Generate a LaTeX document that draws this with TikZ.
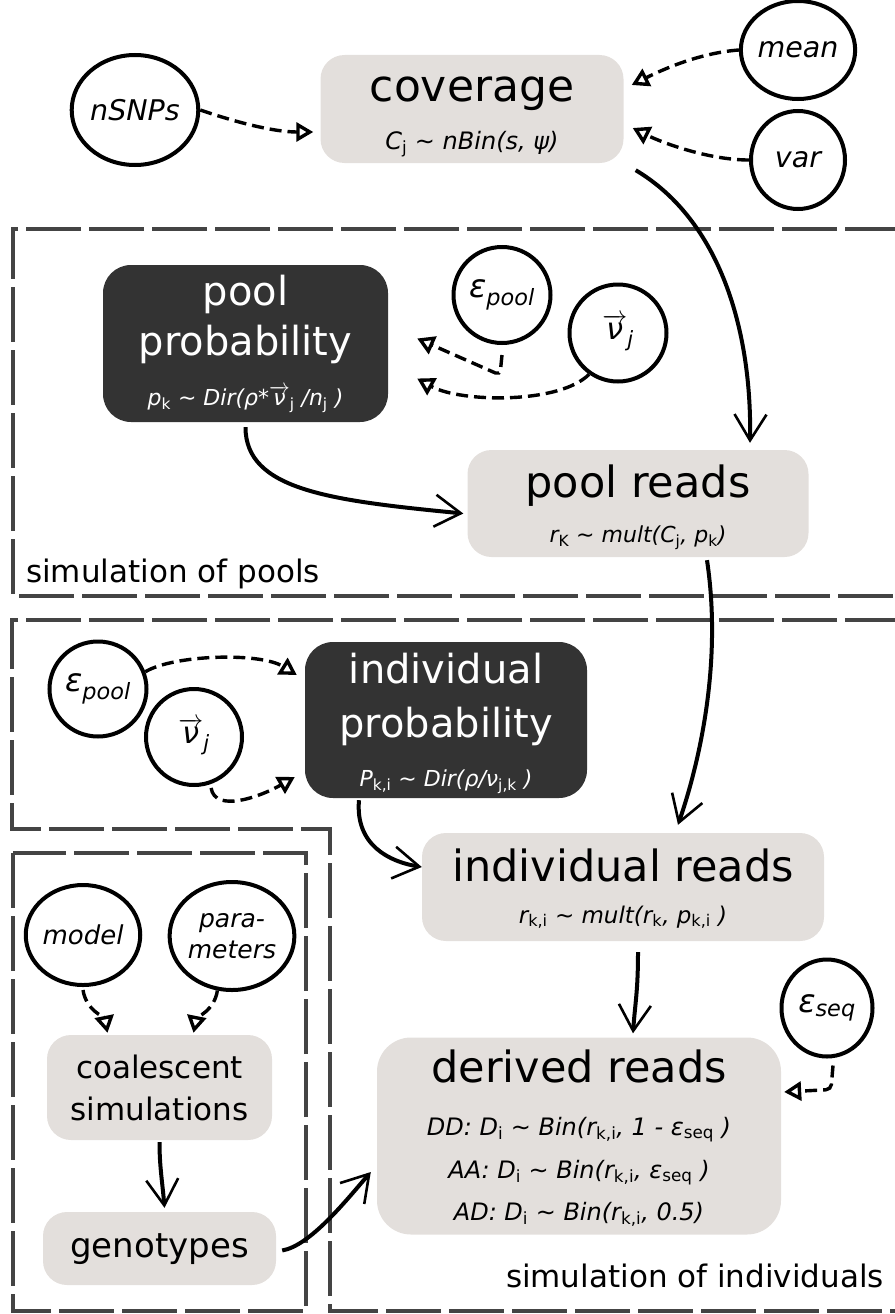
\documentclass[tikz,border=0pt]{standalone}
\usepackage{fontspec}
\setmainfont{DejaVu Sans}
\usetikzlibrary{arrows.meta,shapes.geometric}
\definecolor{boxgray}{RGB}{227,223,220}
\definecolor{boxdark}{RGB}{51,51,51}
\definecolor{framegray}{RGB}{68,68,68}
\newcommand\lowidx[1]{\textsubscript{\upshape #1}}
\newcommand\vecnu{\ensuremath{\overrightarrow{\hbox{ν}}}}
\newcommand\tld{\textasciitilde{}}
\tikzset{
  lightbox/.style={rectangle, rounded corners=24pt, fill=boxgray, inner sep=0pt},
  darkbox/.style={rectangle, rounded corners=28pt, fill=boxdark, inner sep=0pt},
  param/.style={ellipse, draw, line width=4pt, inner sep=0pt,
    font=\fontsize{28.5}{30}\selectfont\itshape},
  title/.style={anchor=base, inner sep=0pt, font=\fontsize{43}{48}\selectfont},
  subtitle/.style={anchor=base, inner sep=0pt, font=\fontsize{31}{36}\selectfont},
  formula/.style={anchor=base, inner sep=0pt, font=\fontsize{22}{26}\selectfont\itshape},
  frame/.style={draw=framegray, line width=4.5pt, dash pattern=on 55pt off 8pt},
  flow/.style={line width=4pt, -{Straight Barb[length=26pt,width=32pt,line width=2.6pt]}},
  prior/.style={line width=3.4pt, dash pattern=on 12pt off 6pt,
    -{Triangle[open,length=17pt,width=19pt,line width=3.4pt]}},
}
\begin{document}
\begin{tikzpicture}[x=1pt,y=-1pt]
\useasboundingbox (0,0) rectangle (894,1314);

% group frames
\draw[frame] (900,229) -- (13,229) -- (13,596) -- (900,596);
\draw[frame] (900,620) -- (12,620) -- (12,829) -- (330,829) -- (330,1311) -- (900,1311);
\draw[frame] (13,853) rectangle (306,1311);

% coverage
\node[lightbox, minimum width=303pt, minimum height=108pt] (cov) at (472,109) {};
\node[title] (covT) at (472,101) {\fontsize{44}{48}\selectfont coverage};
\node[formula, font=\fontsize{24}{28}\selectfont\itshape] (covF) at (472,149) {C\lowidx{j} \tld{} nBin(s, ψ)};
\node[param, minimum width=106pt, minimum height=110pt] (nsnps) at (135,110) {nSNPs};
\node[param, minimum width=94pt, minimum height=98pt] (meancov) at (798,50) {mean};
\node[param, minimum width=94pt, minimum height=98pt] (varcov) at (798,160) {var};

% simulation of pools
\node[darkbox, minimum width=285pt, minimum height=157pt] (pp) at (245.5,343.5) {};
\node[title, text=white, font=\fontsize{40}{44}\selectfont] (ppT1) at (245.5,305) {pool};
\node[title, text=white, font=\fontsize{40}{44}\selectfont] (ppT2) at (245.5,355) {probability};
\node[formula, text=white] (ppF) at (245.5,405) {p\lowidx{k} \tld{} Dir(ρ*\smash{\vecnu}\lowidx{j} /n\lowidx{j} )};
\node[param, minimum width=97pt, minimum height=96pt, font=\fontsize{32}{34}\selectfont\itshape] (epsP) at (502,295) {ε\textsubscript{pool}};
\node[param, minimum width=97pt, minimum height=97pt, font=\fontsize{30}{34}\selectfont\itshape] (nuP) at (618,333) {\vecnu\textsubscript{j}};
\node[lightbox, minimum width=341pt, minimum height=107pt] (pr) at (638,503.5) {};
\node[title] (prT) at (638,497) {pool reads};
\node[formula] (prF) at (638,542) {r\lowidx{K} \tld{} mult(C\lowidx{j}, p\lowidx{k})};
\node[subtitle, anchor=base west] (poolsLbl) at (26,582) {simulation of pools};

% simulation of individuals
\node[darkbox, minimum width=282pt, minimum height=156pt] (ip) at (446,720) {};
\node[title, text=white, font=\fontsize{40}{44}\selectfont] (ipT1) at (446,683) {individual};
\node[title, text=white, font=\fontsize{40}{44}\selectfont] (ipT2) at (446,737) {probability};
\node[formula, text=white] (ipF) at (446,786) {P\lowidx{k,i} \tld{} Dir(ρ/ν\lowidx{j,k} )};
\node[param, minimum width=97pt, minimum height=95pt, font=\fontsize{32}{34}\selectfont\itshape] (epsI) at (98,689) {ε\textsubscript{pool}};
\node[param, minimum width=96pt, minimum height=96pt, font=\fontsize{30}{34}\selectfont\itshape] (nuI) at (194,737) {\vecnu\textsubscript{j}};
\node[lightbox, minimum width=402pt, minimum height=108pt] (ir) at (623,887) {};
\node[title] (irT) at (623,881) {individual reads};
\node[formula, font=\fontsize{23}{27}\selectfont\itshape] (irF) at (623,923) {r\lowidx{k,i} \tld{} mult(r\lowidx{k}, p\lowidx{k,i} )};
\node[lightbox, rounded corners=34pt, minimum width=404pt, minimum height=197pt] (dr) at (579,1136) {};
\node[title] (drT) at (579,1082) {derived reads};
\node[formula, font=\fontsize{24}{28}\selectfont\itshape] (drF1) at (579,1135) {DD: D\lowidx{i} \tld{} Bin(r\lowidx{k,i}, 1 - ε\lowidx{seq} )};
\node[formula, font=\fontsize{24}{28}\selectfont\itshape] (drF2) at (579,1178) {AA: D\lowidx{i} \tld{} Bin(r\lowidx{k,i}, ε\lowidx{seq} )};
\node[formula, font=\fontsize{24}{28}\selectfont\itshape] (drF3) at (579,1220) {AD: D\lowidx{i} \tld{} Bin(r\lowidx{k,i}, 0.5)};
\node[param, minimum width=91pt, minimum height=97pt, font=\fontsize{32}{34}\selectfont\itshape] (epsS) at (827,1008) {ε\textsubscript{seq}};
\node[subtitle, anchor=base east] (indLbl) at (884,1287) {simulation of individuals};

% coalescent simulations
\node[param, minimum width=101pt, minimum height=100pt, font=\fontsize{26}{28}\selectfont\itshape] (model) at (83,935) {model};
\node[param, minimum width=106pt, minimum height=108pt, align=center, font=\fontsize{25}{31}\selectfont\itshape] (params) at (232,936) {para-\\meters};
\node[lightbox, minimum width=225pt, minimum height=105pt] (coal) at (159.5,1087.5) {};
\node[subtitle] (coalT1) at (159.5,1078) {coalescent};
\node[subtitle] (coalT2) at (159.5,1120) {simulations};
\node[lightbox, minimum width=233pt, minimum height=73pt] (geno) at (159.5,1248.5) {};
\node[subtitle, font=\fontsize{34}{38}\selectfont] (genoT) at (159.5,1257) {genotypes};

% priors (dashed)
\draw[prior] (nsnps.east) .. controls +(35,12) and +(-40,0) .. ([xshift=-7pt,yshift=-23pt]cov.west);
\draw[prior] (meancov.west) .. controls +(-40,3) and +(30,-15) .. ([xshift=8pt,yshift=24pt]cov.east);
\draw[prior] (varcov.west) .. controls +(-40,0) and +(30,15) .. ([xshift=9pt,yshift=-19pt]cov.east);
\draw[prior, rounded corners=5pt] ([yshift=-10pt]epsP.south) -- ++(-2,20) -- ([xshift=29pt,yshift=5pt]pp.east);
\draw[prior] (nuP.-125) .. controls +(-30,30) and +(43,24) .. ([xshift=29pt,yshift=-35pt]pp.east);
\draw[prior] (epsI.20) .. controls +(28,-17) and +(-37,-23) .. ([xshift=-8pt,yshift=45pt]ip.west);
\draw[prior] ([yshift=-4pt]nuI.-70) .. controls +(4,25) and +(-35,20) .. ([xshift=-10pt,yshift=-57pt]ip.west);
\draw[prior, rounded corners=5pt] ([xshift=6pt,yshift=-7pt]epsS.south) -- ++(-2,24) -- ([xshift=3pt,yshift=44pt]dr.east);
\draw[prior] ([yshift=-3pt]model.south) .. controls +(3,20) and +(-3,-15) .. ([xshift=-52pt,yshift=2pt]coal.north);
\draw[prior] (params.-105) .. controls +(-3,20) and +(3,-15) .. ([xshift=34pt,yshift=2pt]coal.north);

% flows (solid)
\draw[flow] ([xshift=12pt,yshift=-7pt]cov.south east) .. controls +(84,50) and +(2,-113) .. ([xshift=112pt,yshift=7pt]pr.north);
\draw[flow] ([yshift=-5pt]pp.south) .. controls +(0,63) and +(-133,-13) .. ([xshift=-4pt,yshift=-10pt]pr.west);
\draw[flow] ([xshift=69pt,yshift=-3pt]pr.south) .. controls +(18,120) and +(12,-35) .. ([xshift=55pt,yshift=8pt]ir.north);
\draw[flow] ([xshift=-87pt,yshift=-2pt]ip.south) .. controls +(-4,45) and +(-32,-5) .. ([yshift=20pt]ir.west);
\draw[flow] ([xshift=15pt,yshift=-11pt]ir.south) .. controls +(0,40) and +(2,-30) .. ([xshift=54pt,yshift=4pt]dr.north);
\draw[flow] ([yshift=-2pt]coal.south) .. controls +(0,25) and +(-2,-25) .. ([xshift=5pt,yshift=4pt]geno.north);
\draw[flow] ([xshift=6pt,yshift=-2pt]geno.east) .. controls +(28,-5) and +(-26,30) .. ([xshift=-6pt,yshift=-36pt]dr.west);
\end{tikzpicture}
\end{document}
